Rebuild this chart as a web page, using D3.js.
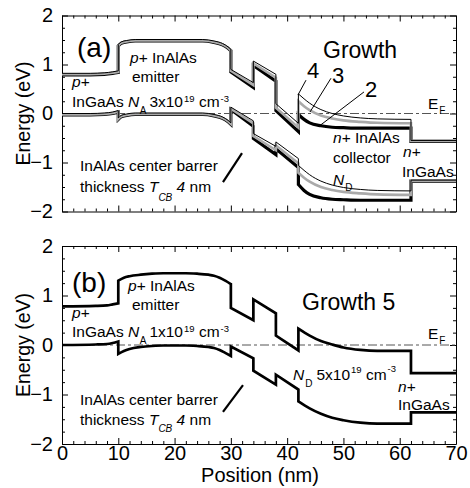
<!DOCTYPE html>
<html><head><meta charset="utf-8">
<script src="https://cdn.jsdelivr.net/npm/d3@7"></script>
<style>
body{margin:0;background:#fff}
svg{display:block}
text{font-family:"Liberation Sans",Arial,Helvetica,sans-serif;fill:#000}
</style>
</head><body>
<svg id="chart" width="470" height="488"></svg>
<script>
// ---------- tick values ----------
const xTicks = [0, 10, 20, 30, 40, 50, 60, 70];
const xMinorTicks = [2,4,6,8,12,14,16,18,22,24,26,28,32,34,36,38,42,44,46,48,52,54,56,58,62,64,66,68];
const yTicks = [-2, -1, 0, 1, 2];
const yMinorTicks = [-1.75,-1.5,-1.25,-0.75,-0.5,-0.25,0.25,0.5,0.75,1.25,1.5,1.75];

// ---------- panel (a): positions (nm) shared by growths 2, 3, 4 ----------
const positionA = [0,5,7.5,9,10, 10,10.5,11.5,13,25,27,28.5,29.5,30, 30,34, 34,38, 38,42, 42,43,44,46,48,50,53,56,62, 62,70];
// conduction band (eV)
const cbGrowth4 = [0.82,0.82,0.83,0.85,0.87, 1.41,1.46,1.49,1.51,1.51,1.48,1.43,1.36,1.31, 0.90,0.63, 1.07,0.80, 0.20,-0.20, 0.40,0.30,0.21,0.08,0.00,-0.05,-0.09,-0.11,-0.12, -0.55,-0.55];
const cbGrowth3 = [0.80,0.80,0.81,0.83,0.85, 1.39,1.44,1.47,1.49,1.49,1.46,1.41,1.34,1.29, 0.87,0.58, 1.02,0.73, 0.12,-0.29, 0.25,0.15,0.07,-0.04,-0.10,-0.14,-0.17,-0.19,-0.20, -0.56,-0.56];
const cbGrowth2 = [0.79,0.79,0.80,0.82,0.84, 1.38,1.43,1.46,1.48,1.48,1.45,1.40,1.33,1.28, 0.85,0.53, 0.98,0.66, 0.06,-0.37, -0.02,-0.12,-0.19,-0.25,-0.28,-0.29,-0.30,-0.30,-0.30, -0.57,-0.57];
// valence band (eV)
const vbGrowth4 = [0.00,0.00,0.01,0.03,0.06, -0.09,-0.04,-0.01,0.01,0.01,-0.02,-0.07,-0.14,-0.19, 0.13,-0.15, -0.41,-0.67, -0.58,-0.92, -1.06,-1.16,-1.25,-1.38,-1.46,-1.51,-1.55,-1.57,-1.58, -1.36,-1.36];
const vbGrowth3 = [-0.02,-0.02,-0.01,0.01,0.04, -0.11,-0.06,-0.03,-0.01,-0.01,-0.04,-0.09,-0.16,-0.21, 0.10,-0.20, -0.46,-0.75, -0.65,-1.02, -1.21,-1.31,-1.39,-1.50,-1.56,-1.60,-1.63,-1.65,-1.66, -1.37,-1.37];
const vbGrowth2 = [-0.03,-0.03,-0.02,0.00,0.03, -0.12,-0.07,-0.04,-0.02,-0.02,-0.05,-0.10,-0.17,-0.22, 0.08,-0.26, -0.51,-0.84, -0.72,-1.10, -1.45,-1.57,-1.65,-1.72,-1.75,-1.76,-1.77,-1.77,-1.77, -1.38,-1.38];

// ---------- panel (b): growth 5 ----------
const positionB = [0,6,8,9,10, 10,11,12,14,16,18,22,24,26,27,28,29,30, 30,34, 34,38, 38,42, 42,44,46,48,50,53,56,62, 62,70];
const cbGrowth5 = [0.78,0.79,0.80,0.82,0.84, 1.30,1.36,1.39,1.42,1.44,1.45,1.45,1.44,1.42,1.40,1.36,1.30,1.23, 0.75,0.50, 0.92,0.64, 0.19,-0.11, 0.33,0.19,0.08,0.01,-0.05,-0.10,-0.12,-0.12, -0.57,-0.57];
const vbGrowth5 = [0.00,0.01,0.02,0.04,0.07, -0.18,-0.12,-0.08,-0.04,-0.02,-0.01,-0.01,-0.02,-0.04,-0.06,-0.10,-0.16,-0.22, -0.03,-0.27, -0.52,-0.80, -0.60,-0.90, -1.14,-1.28,-1.39,-1.47,-1.52,-1.57,-1.59,-1.59, -1.36,-1.36];

// Fermi level
const fermiLevel = [0];

// annotation leader lines in data units [x1,E1,x2,E2]
const leaderA = [[43.35,0.68,41.93,0.38],[47.79,0.72,44.06,0.03],[53.65,0.44,45.66,-0.26],[31.98,-0.81,28.60,-1.40]];
const leaderB = [[32.16,-0.81,28.60,-1.35]];

// ---------- layout ----------
const svg = d3.select('#chart');
const x = d3.scaleLinear().domain([0, 70]).range([62, 456]);
const yA = d3.scaleLinear().domain([-2, 2]).range([211.5, 15.5]);
const yB = d3.scaleLinear().domain([-2, 2]).range([444, 246]);
const FS = 15.5;

function frame(y, withXLabels) {
  const g = svg.append('g');
  const [yb, yt] = y.range();
  const fmt = d3.format('d');
  g.append('g').attr('transform', `translate(0,${yb})`)
    .call(d3.axisBottom(x).tickValues(xTicks).tickSizeInner(-6).tickSizeOuter(0).tickPadding(2)
      .tickFormat(withXLabels ? fmt : () => ''));
  g.append('g').attr('transform', `translate(0,${yb})`)
    .call(d3.axisBottom(x).tickValues(xMinorTicks).tickSizeInner(-3).tickSizeOuter(0).tickFormat(() => ''))
    .select('.domain').remove();
  g.append('g').attr('transform', `translate(0,${yt})`)
    .call(d3.axisTop(x).tickValues(xTicks).tickSizeInner(-6).tickSizeOuter(0).tickFormat(() => ''));
  g.append('g').attr('transform', `translate(0,${yt})`)
    .call(d3.axisTop(x).tickValues(xMinorTicks).tickSizeInner(-3).tickSizeOuter(0).tickFormat(() => ''))
    .select('.domain').remove();
  g.append('g').attr('transform', `translate(${x.range()[0]},0)`)
    .call(d3.axisLeft(y).tickValues(yTicks).tickSizeInner(-6).tickSizeOuter(0).tickPadding(9).tickFormat(fmt));
  g.append('g').attr('transform', `translate(${x.range()[0]},0)`)
    .call(d3.axisLeft(y).tickValues(yMinorTicks).tickSizeInner(-3).tickSizeOuter(0).tickFormat(() => ''))
    .select('.domain').remove();
  g.append('g').attr('transform', `translate(${x.range()[1]},0)`)
    .call(d3.axisRight(y).tickValues(yTicks).tickSizeInner(-6).tickSizeOuter(0).tickFormat(() => ''));
  g.append('g').attr('transform', `translate(${x.range()[1]},0)`)
    .call(d3.axisRight(y).tickValues(yMinorTicks).tickSizeInner(-3).tickSizeOuter(0).tickFormat(() => ''))
    .select('.domain').remove();
  g.selectAll('text').attr('font-size', 20).attr('font-family', '"Liberation Sans",Arial,sans-serif').attr('fill', '#000');
  g.selectAll('.domain, .tick line').attr('stroke', '#000').attr('stroke-width', 1);
  return g;
}

function bandPath(xs, es, y) {
  const pts = xs.map((v, i) => [x(v), y(es[i])]);
  const pieces = [];
  let cur = [pts[0]];
  for (let i = 1; i < pts.length; i++) {
    if (xs[i] === xs[i - 1]) { pieces.push(cur); cur = [pts[i]]; }
    else cur.push(pts[i]);
  }
  pieces.push(cur);
  const gen = d3.line().curve(d3.curveMonotoneX);
  return pieces.map((p, i) => { const s = gen(p); return i ? 'L' + s.slice(1) : s; }).join('');
}

function drawBand(xs, es, y, color, width) {
  svg.append('path').attr('d', bandPath(xs, es, y))
    .attr('fill', 'none').attr('stroke', color).attr('stroke-width', width)
    .attr('stroke-linejoin', 'miter').attr('stroke-miterlimit', 3);
}

function drawFermi(y) {
  svg.selectAll(null).data(fermiLevel).enter().append('line')
    .attr('x1', x(0)).attr('x2', x(70)).attr('y1', d => y(d)).attr('y2', d => y(d))
    .attr('stroke', '#555').attr('stroke-width', 1).attr('stroke-dasharray', '9,3,3,3');
}

function drawLeaders(list, y) {
  svg.selectAll(null).data(list).enter().append('line')
    .attr('x1', d => x(d[0])).attr('y1', d => y(d[1])).attr('x2', d => x(d[2])).attr('y2', d => y(d[3]))
    .attr('stroke', '#000').attr('stroke-width', d => d[0] < 35 ? 2.2 : 1);
}

// flowing label: parts {t, i: italic, s: size, sh: vertical shift, dx}
function label(px, py, size, parts) {
  const t = svg.append('text').attr('x', px).attr('y', py).attr('font-size', size);
  parts.forEach(p => {
    const s = t.append('tspan').text(p.t).attr('y', py + (p.sh || 0));
    if (p.dx) s.attr('dx', p.dx);
    if (p.i) s.attr('font-style', 'italic');
    if (p.s) s.attr('font-size', p.s);
  });
  return t;
}

// ---------- panel (a) ----------
frame(yA, false);
drawFermi(yA);
drawBand(positionA, cbGrowth2, yA, '#000', 3.2);
drawBand(positionA, vbGrowth2, yA, '#000', 3.2);
drawBand(positionA, cbGrowth3, yA, '#aaaaaa', 2.6);
drawBand(positionA, vbGrowth3, yA, '#aaaaaa', 2.6);
drawBand(positionA, cbGrowth4, yA, '#000', 1);
drawBand(positionA, vbGrowth4, yA, '#000', 1);
drawLeaders(leaderA, yA);

label(77, 57, 28, [{t: '(a)'}]);
label(130, 63, FS, [{t: 'p', i: 1}, {t: '+ InAlAs'}]);
label(132, 82, FS, [{t: 'emitter'}]);
label(72, 87, FS, [{t: 'p', i: 1}, {t: '+'}]);
label(72, 107, FS, [{t: 'InGaAs '}, {t: 'N', i: 1}, {t: 'A', s: 10, sh: 7, dx: 0.5},
  {t: '3x10', dx: 3}, {t: '19', s: 9.5, sh: -5, dx: 1}, {t: ' cm'}, {t: '-3', s: 9.5, sh: -5, dx: 1}]);
label(80, 171, FS, [{t: 'InAlAs center barrer'}]);
label(80, 192, FS, [{t: 'thickness '}, {t: 'T', i: 1}, {t: 'CB', i: 1, s: 10, sh: 9}, {t: ' 4', i: 1}, {t: ' nm'}]);
label(323, 58, 23, [{t: 'Growth'}]);
label(307, 78, 22, [{t: '4'}]);
label(332, 83, 22, [{t: '3'}]);
label(365, 97, 22, [{t: '2'}]);
label(428, 109, FS, [{t: 'E'}, {t: 'F', s: 10, sh: 5, dx: 1}]);
label(333, 143, FS, [{t: 'n', i: 1}, {t: '+ InAlAs'}]);
label(333, 163, FS, [{t: 'collector'}]);
label(333, 185, FS, [{t: 'N', i: 1}, {t: 'D', s: 10, sh: 6, dx: 1}]);
label(403, 157, FS, [{t: 'n', i: 1}, {t: '+'}]);
label(402, 177, FS, [{t: 'InGaAs'}]);

// ---------- panel (b) ----------
frame(yB, true);
drawFermi(yB);
drawBand(positionB, cbGrowth5, yB, '#000', 2.7);
drawBand(positionB, vbGrowth5, yB, '#000', 2.7);
drawLeaders(leaderB, yB);

label(72, 292, 28, [{t: '(b)'}]);
label(128, 291, FS, [{t: 'p', i: 1}, {t: '+ InAlAs'}]);
label(132, 310, FS, [{t: 'emitter'}]);
label(72, 318, FS, [{t: 'p', i: 1}, {t: '+'}]);
label(72, 337, FS, [{t: 'InGaAs '}, {t: 'N', i: 1}, {t: 'A', s: 10, sh: 7, dx: 0.5},
  {t: '1x10', dx: 3}, {t: '19', s: 9.5, sh: -5, dx: 1}, {t: ' cm'}, {t: '-3', s: 9.5, sh: -5, dx: 1}]);
label(80, 405, FS, [{t: 'InAlAs center barrer'}]);
label(80, 425, FS, [{t: 'thickness '}, {t: 'T', i: 1}, {t: 'CB', i: 1, s: 10, sh: 7}, {t: ' 4', i: 1}, {t: ' nm'}]);
label(302, 310, 23, [{t: 'Growth 5'}]);
label(428, 339, FS, [{t: 'E'}, {t: 'F', s: 10, sh: 5, dx: 1}]);
label(293, 380, FS, [{t: 'N', i: 1}, {t: 'D', s: 10, sh: 7, dx: 1}, {t: '5x10', dx: 4},
  {t: '19', s: 9.5, sh: -7, dx: 1}, {t: ' cm'}, {t: '-3', s: 9.5, sh: -8, dx: 1}]);
label(398, 392, FS, [{t: 'n', i: 1}, {t: '+'}]);
label(398, 410, FS, [{t: 'InGaAs'}]);

// ---------- axis titles ----------
[yA, yB].forEach(y => {
  const cy = (y.range()[0] + y.range()[1]) / 2;
  svg.append('text').attr('transform', `translate(29.5,${cy}) rotate(-90)`)
    .attr('text-anchor', 'middle').attr('font-size', 19.5).text('Energy (eV)');
});
svg.append('text').attr('x', 260).attr('y', 482).attr('text-anchor', 'middle')
  .attr('font-size', 20).text('Position (nm)');
</script>
</body></html>
